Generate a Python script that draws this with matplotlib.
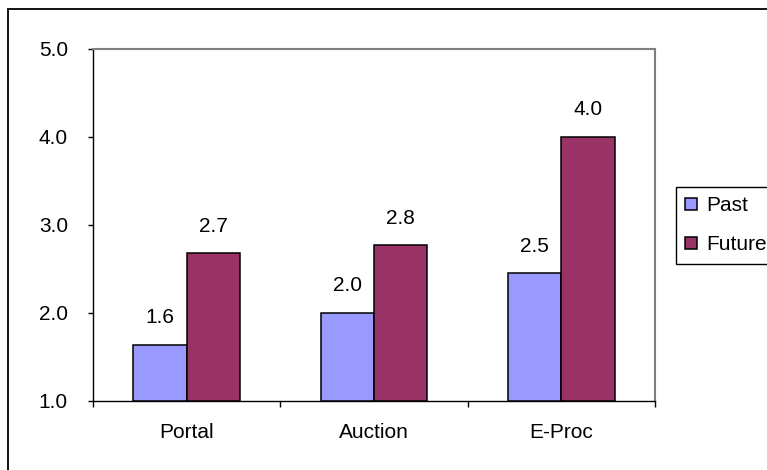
import matplotlib.pyplot as plt
import numpy as np
from matplotlib.patches import Rectangle

categories = ['Portal', 'Auction', 'E-Proc']
past = [1.64, 2.0, 2.45]
future = [2.68, 2.77, 4.0]
series_names = ['Past', 'Future']
y_ticks = [1.0, 2.0, 3.0, 4.0, 5.0]

plt.rcParams['font.family'] = ['Liberation Sans', 'DejaVu Sans']
fs = 15

fig = plt.figure(figsize=(7.67, 4.70), dpi=100)
ax = fig.add_axes([93 / 767, 69 / 470, 562 / 767, 352 / 470])

x = np.arange(len(categories))
w = 0.285
bars_past = ax.bar(x - w / 2, np.array(past) - 1.0, w, bottom=1.0, color='#9999FF',
                   edgecolor='black', linewidth=1.1, label=series_names[0], zorder=3)
bars_future = ax.bar(x + w / 2, np.array(future) - 1.0, w, bottom=1.0, color='#993366',
                     edgecolor='black', linewidth=1.1, label=series_names[1], zorder=3)

# value labels above each bar
for xs, vals in [(x - w / 2, past), (x + w / 2, future)]:
    for xi, v in zip(xs, vals):
        ax.annotate(f'{v:.1f}', (xi, v), xytext=(0, 19.5), textcoords='offset points',
                    ha='center', va='center', fontsize=fs)

ax.set_ylim(1.0, 5.0)
ax.set_xlim(-0.5, len(categories) - 0.5)
ax.set_yticks(y_ticks)
ax.set_yticklabels([f'{t:.1f}' for t in y_ticks], fontsize=fs)
ax.tick_params(axis='y', length=3.6, width=1, pad=14.4, direction='out')

# tick marks between categories, labels at the centres
ax.set_xticks(np.arange(len(categories) + 1) - 0.5)
ax.set_xticklabels([])
ax.tick_params(axis='x', which='major', length=4.3, width=1, direction='out')
ax.set_xticks(x, minor=True)
ax.set_xticklabels(categories, minor=True, fontsize=fs)
ax.tick_params(axis='x', which='minor', length=0, pad=16)

for side in ['left', 'bottom']:
    ax.spines[side].set_color('black')
    ax.spines[side].set_linewidth(1.0)
for side in ['top', 'right']:
    ax.spines[side].set_color('#808080')
    ax.spines[side].set_linewidth(1.5)

leg = fig.legend(handles=[bars_past, bars_future], loc='upper left',
                 bbox_to_anchor=(676 / 767, (470 - 187) / 470), fontsize=fs,
                 frameon=True, fancybox=False, edgecolor='black', framealpha=1,
                 handlelength=0.55, handleheight=0.55, handletextpad=0.45,
                 borderpad=0.45, labelspacing=0.95, borderaxespad=0)
leg.get_frame().set_linewidth(1.0)

# border around the whole chart area
fig.patches.append(Rectangle((8 / 767, -0.1), 1.2, (470 - 9) / 470 + 0.1,
                             transform=fig.transFigure, fill=False,
                             edgecolor='black', linewidth=1.3, clip_on=False))

fig.savefig('out.png', dpi=100)
